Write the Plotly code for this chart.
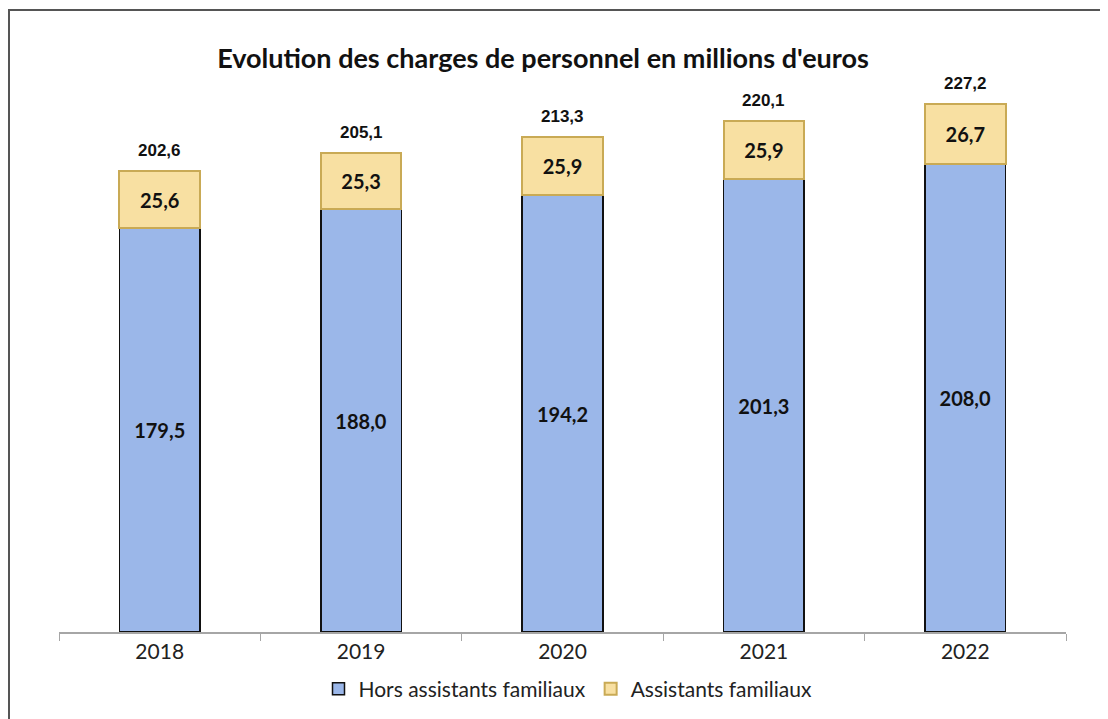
import plotly.graph_objects as go

years = ["2018", "2019", "2020", "2021", "2022"]
hors_assistants = [179.5, 188.0, 194.2, 201.3, 208.0]
assistants = [25.6, 25.3, 25.9, 25.9, 26.7]
totals = [202.6, 205.1, 213.3, 220.1, 227.2]

def fr(v):
    return f"{v:.1f}".replace(".", ",")

LABEL_FONT = "Lato, Noto Sans, sans-serif"

fig = go.Figure()
fig.add_trace(go.Bar(
    x=years, y=hors_assistants, name="Hors assistants familiaux",
    marker=dict(color="#9BB7E9", line=dict(color="#111111", width=1.5)),
    text=[fr(v) for v in hors_assistants], textposition="inside",
    insidetextanchor="middle",
    textfont=dict(family=LABEL_FONT, size=20, color="#111111", weight="bold"),
))
fig.add_trace(go.Bar(
    x=years, y=assistants, name="Assistants familiaux",
    marker=dict(color="#F8E0A2", line=dict(color="#C9AA55", width=2)),
    text=[fr(v) for v in assistants], textposition="inside",
    insidetextanchor="middle",
    textfont=dict(family=LABEL_FONT, size=20, color="#111111", weight="bold"),
))

for i, (h, a, t) in enumerate(zip(hors_assistants, assistants, totals)):
    fig.add_annotation(
        x=i, y=h + a, text=f"<b>{fr(t)}</b>", showarrow=False,
        yanchor="bottom", yshift=9,
        font=dict(family="Liberation Sans Narrow, Arial Narrow, Liberation Sans, sans-serif", size=17, color="#111111"),
    )

# page offset of 8px (body margin) accounted for in margins
L, R, T, B = 51, 50, 62, 95
PW = 1108 - L - R
PH = 719 - T - B

fig.add_shape(type="rect", xref="paper", yref="paper",
              x0=(1 - L) / PW, x1=1.2, y0=-0.5, y1=1 + (T - 2) / PH,
              line=dict(color="#555555", width=2), fillcolor="rgba(0,0,0,0)", layer="below")

fig.update_layout(
    width=1108, height=719,
    margin=dict(l=L, r=R, t=T, b=B),
    paper_bgcolor="white", plot_bgcolor="white",
    barmode="stack", bargap=0.6,
    title=dict(text="<b>Evolution des charges de personnel en millions d'euros</b>",
               x=(543 - 8) / 1108, xanchor="center", y=1 - (59 - 8) / 719, yanchor="middle",
               font=dict(family=LABEL_FONT, size=27, color="#111111")),
    xaxis=dict(type="category", range=[-0.5, 4.5], showline=True, linecolor="#A6A6A6", linewidth=1.5,
               ticks="outside", tickson="boundaries", ticklen=7, tickcolor="#A6A6A6",
               tickfont=dict(family=LABEL_FONT, size=21, color="#222222"),
               showgrid=False),
    yaxis=dict(range=[0, 250], visible=False, showgrid=False),
    legend=dict(orientation="h", x=(568 - 8 - L) / PW, xanchor="center",
                y=-(689 - 8 - (T + PH)) / PH, yanchor="middle",
                font=dict(family=LABEL_FONT, size=21, color="#222222"),
                traceorder="normal", itemwidth=30),
)

fig.write_html("out.html")
